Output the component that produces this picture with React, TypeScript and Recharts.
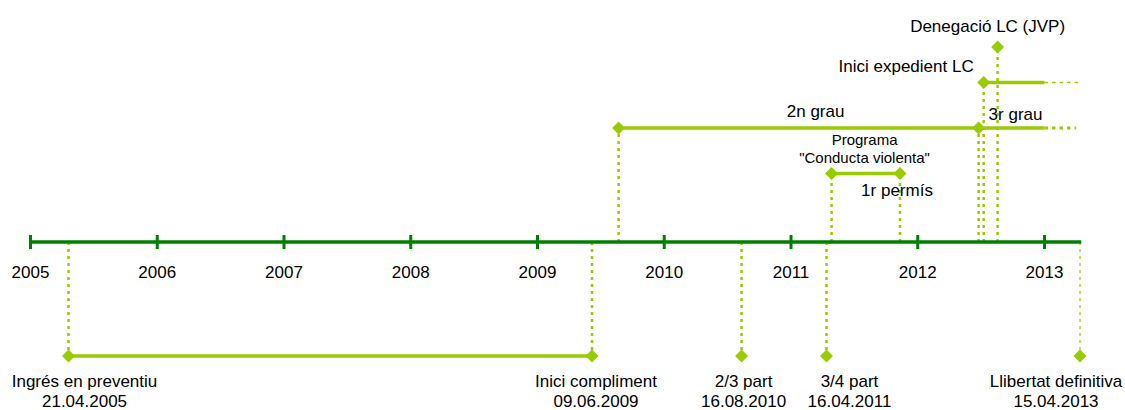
import { ComposedChart, Line, Scatter, XAxis, YAxis } from 'recharts';

const DARK = '#008000';
const LIGHT = '#99cc00';
const FONT = '"Liberation Sans", Arial, sans-serif';

// main time axis
const years = [2005, 2006, 2007, 2008, 2009, 2010, 2011, 2012, 2013];
const axisStart = 2005;
const axisEnd = 2013.29;

// milestones below the axis (decimal year)
const lowerLabels = ['Ingrés en preventiu', 'Inici compliment', '2/3 part', '3/4 part', 'Llibertat definitiva'];
const lowerDates = ['21.04.2005', '09.06.2009', '16.08.2010', '16.04.2011', '15.04.2013'];
const lowerPos = [2005.3, 2009.43, 2010.61, 2011.28, 2013.28];
const lowerLevel = -1;

// milestones above the axis
const upperLabels = ['2n grau', 'Programa\n"Conducta violenta"', '1r permís', '3r grau', 'Inici expedient LC', 'Denegació LC (JVP)'];
const upperPos = [2009.64, 2011.32, 2011.86, 2012.48, 2012.52, 2012.63];
const upperLevel = [1, 0.6, 0.6, 1, 1.4, 1.71];

// periods: [from, to, level]
const periods = [
  [2005.3, 2009.43, -1],
  [2009.64, 2013.0, 1],
  [2011.32, 2011.86, 0.6],
  [2012.52, 2013.0, 1.4],
];
// still running: dotted continuation [from, to, level]
const openEnds = [
  [2013.0, 2013.25, 1],
  [2013.0, 2013.28, 1.4],
];

// text placement relative to each diamond (px)
const labelLayout: Record<string, { dx: number; dy: number; anchor: string; size?: number }> = {
  'Ingrés en preventiu': { dx: 16, dy: 31, anchor: 'middle' },
  'Inici compliment': { dx: 4, dy: 31, anchor: 'middle' },
  '2/3 part': { dx: 2, dy: 31, anchor: 'middle' },
  '3/4 part': { dx: 23, dy: 31, anchor: 'middle' },
  'Llibertat definitiva': { dx: -24, dy: 31, anchor: 'middle' },
  '2n grau': { dx: 197, dy: -11, anchor: 'middle' },
  'Programa\n"Conducta violenta"': { dx: 33, dy: -29, anchor: 'middle', size: 15 },
  '1r permís': { dx: -3, dy: 22, anchor: 'middle' },
  '3r grau': { dx: 10, dy: -8, anchor: 'start' },
  'Inici expedient LC': { dx: -10, dy: -10, anchor: 'end' },
  'Denegació LC (JVP)': { dx: -10, dy: -15, anchor: 'middle' },
};

const xMin = 2004.7594;
const xMax = 2013.635;
const yMin = -1.4737;
const yMax = 2.1228;

const lowerData = lowerLabels.map((label, i) => ({ x: lowerPos[i], y: lowerLevel, label, date: lowerDates[i] }));
const upperData = upperLabels.map((label, i) => ({ x: upperPos[i], y: upperLevel[i], label, date: '' }));
const yearData = years.map(y => ({ x: y, y: 0, label: String(y) }));

function YearTick(props: any) {
  const { cx, cy, payload } = props;
  return (
    <g>
      <line x1={cx} x2={cx} y1={cy - 7} y2={cy + 7} stroke={DARK} strokeWidth={3} />
      <text x={cx} y={cy + 36} textAnchor="middle" fontSize={17} fontFamily={FONT} fill="#000">
        {payload.label}
      </text>
    </g>
  );
}

function Milestone(props: any) {
  const { cx, cy, payload } = props;
  const lay = labelLayout[payload.label];
  const lines = [...payload.label.split('\n'), payload.date].filter(Boolean);
  const size = lay.size ?? 17;
  const h = 6.5;
  return (
    <g>
      <polygon points={`${cx},${cy - h} ${cx + h},${cy} ${cx},${cy + h} ${cx - h},${cy}`} fill={LIGHT} />
      <text x={cx + lay.dx} y={cy + lay.dy} textAnchor={lay.anchor} fontSize={size} fontFamily={FONT} fill="#000">
        {lines.map((t: string, i: number) => (
          <tspan key={i} x={cx + lay.dx} dy={i === 0 ? 0 : size + 3.5}>{t}</tspan>
        ))}
      </text>
    </g>
  );
}

export default function App() {
  const drops = [...lowerData, ...upperData];
  return (
    <div style={{ position: 'absolute', left: 0, top: 0 }}>
      <ComposedChart width={1125} height={410} margin={{ top: 0, right: 0, bottom: 0, left: 0 }}>
        <XAxis type="number" dataKey="x" domain={[xMin, xMax]} hide allowDataOverflow />
        <YAxis type="number" dataKey="y" domain={[yMin, yMax]} hide allowDataOverflow />

        {/* dotted drop lines from each milestone to the axis */}
        {drops.map((d, i) => (
          <Line
            key={`drop-${i}`}
            data={[{ x: d.x, y: 0 }, { x: d.x, y: d.y }]}
            dataKey="y"
            stroke={LIGHT}
            strokeWidth={d.label === 'Llibertat definitiva' ? 1.2 : 2.5}
            strokeDasharray="3 4"
            dot={false}
            activeDot={false}
            isAnimationActive={false}
          />
        ))}

        {periods.map((p, i) => (
          <Line
            key={`period-${i}`}
            data={[{ x: p[0], y: p[2] }, { x: p[1], y: p[2] }]}
            dataKey="y"
            stroke={LIGHT}
            strokeWidth={3.5}
            dot={false}
            activeDot={false}
            isAnimationActive={false}
          />
        ))}

        {openEnds.map((p, i) => (
          <Line
            key={`open-${i}`}
            data={[{ x: p[0], y: p[2] }, { x: p[1], y: p[2] }]}
            dataKey="y"
            stroke={LIGHT}
            strokeWidth={p[2] > 1 ? 1.5 : 3}
            strokeDasharray="3.5 4"
            dot={false}
            activeDot={false}
            isAnimationActive={false}
          />
        ))}

        <Line
          data={[{ x: axisStart, y: 0 }, { x: axisEnd, y: 0 }]}
          dataKey="y"
          stroke={DARK}
          strokeWidth={3.5}
          dot={false}
          activeDot={false}
          isAnimationActive={false}
        />

        <Scatter data={yearData} dataKey="y" shape={YearTick} isAnimationActive={false} />
        <Scatter data={lowerData} dataKey="y" shape={Milestone} isAnimationActive={false} />
        <Scatter data={upperData} dataKey="y" shape={Milestone} isAnimationActive={false} />
      </ComposedChart>
    </div>
  );
}
